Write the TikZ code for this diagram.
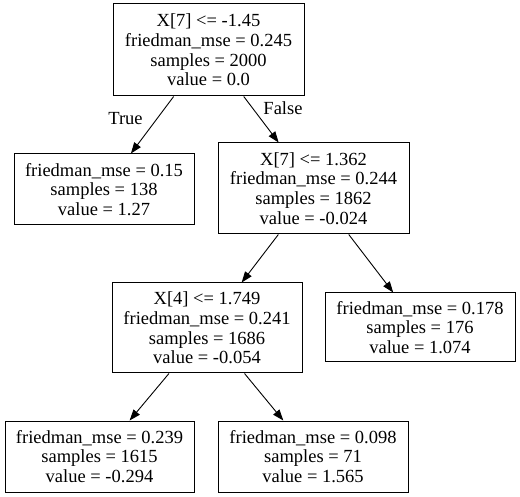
\documentclass[tikz,border=0pt]{standalone}
\usepackage{fontspec}
\setmainfont{Liberation Serif}
\usetikzlibrary{arrows.meta}
\begin{document}
\begin{tikzpicture}[x=1pt,y=-1pt,
  treenode/.style={draw=black,line width=1pt,rectangle,align=center,inner sep=0pt,
    font=\fontsize{18.5pt}{19.7pt}\selectfont},
  edge/.style={line width=0.9pt,-{Triangle[length=11pt,width=8pt]}},
  elabel/.style={font=\fontsize{18.5pt}{19.7pt}\selectfont}]
\useasboundingbox (0,0) rectangle (520,497);
\node[treenode,minimum width=191pt,minimum height=92pt] (root) at (208.5,50)
  {X[7] <= -1.45\\friedman\_mse = 0.245\\samples = 2000\\value = 0.0};
\node[treenode,minimum width=180pt,minimum height=71pt] (l1) at (104,189.5)
  {friedman\_mse = 0.15\\samples = 138\\value = 1.27};
\node[treenode,minimum width=191pt,minimum height=91pt] (n2) at (313.5,188.5)
  {X[7] <= 1.362\\friedman\_mse = 0.244\\samples = 1862\\value = -0.024};
\node[treenode,minimum width=190pt,minimum height=69pt] (l2) at (420,327.5)
  {friedman\_mse = 0.178\\samples = 176\\value = 1.074};
\node[treenode,minimum width=190pt,minimum height=90pt] (n4) at (207,328)
  {X[4] <= 1.749\\friedman\_mse = 0.241\\samples = 1686\\value = -0.054};
\node[treenode,minimum width=189pt,minimum height=71pt] (l3) at (99.5,456.5)
  {friedman\_mse = 0.239\\samples = 1615\\value = -0.294};
\node[treenode,minimum width=190pt,minimum height=71pt] (l4) at (313,456.5)
  {friedman\_mse = 0.098\\samples = 71\\value = 1.565};
\draw[edge] (root) -- (l1);
\draw[edge] (root) -- (n2);
\draw[edge] (n2) -- (n4);
\draw[edge] (n2) -- (l2);
\draw[edge] (n4) -- (l3);
\draw[edge] (n4) -- (l4);
\node[elabel] (tlab) at (125.5,119) {True};
\node[elabel] (flab) at (283,108) {False};
\end{tikzpicture}
\end{document}
